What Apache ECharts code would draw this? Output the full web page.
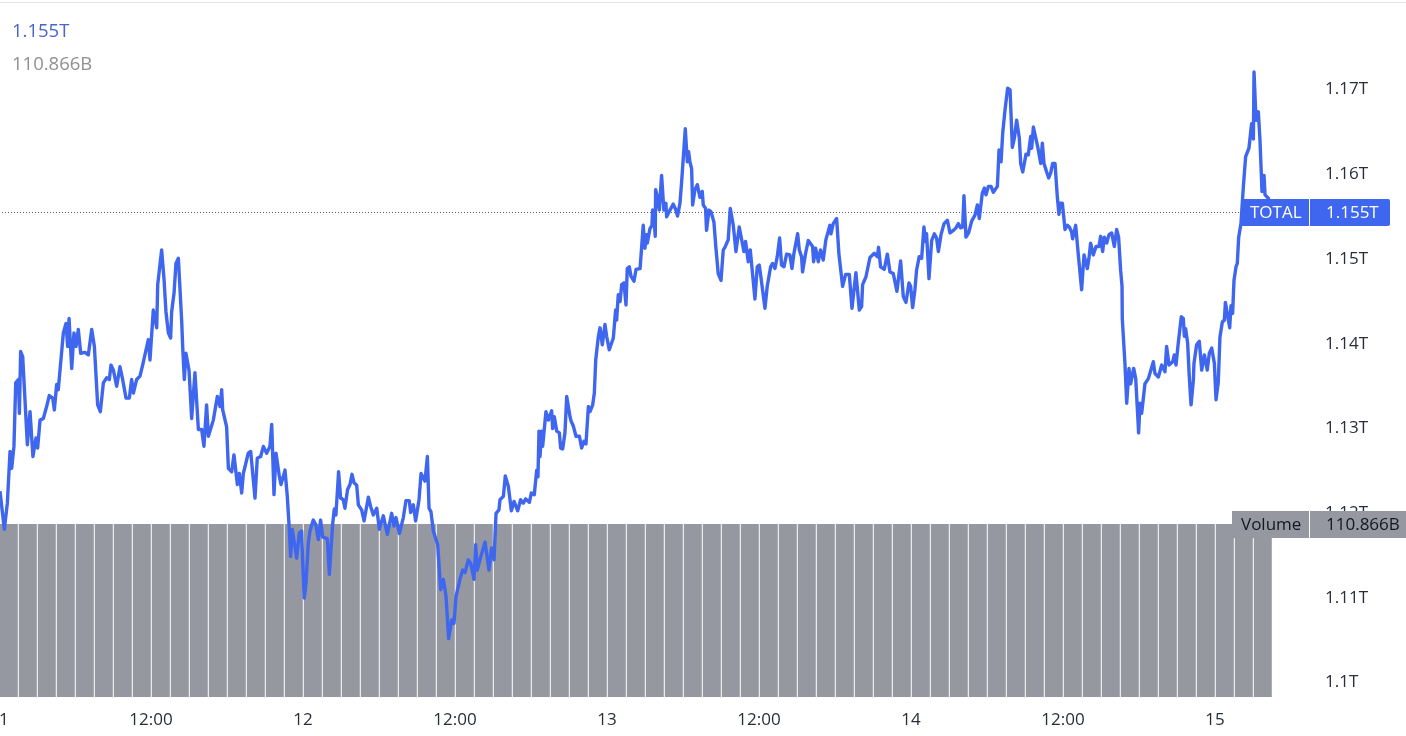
<!DOCTYPE html>
<html>
<head>
<meta charset="utf-8">
<style>html,body{margin:0;padding:0;background:#fff}#c{width:1406px;height:736px}</style>
<script src="https://cdn.jsdelivr.net/npm/echarts@6/dist/echarts.min.js"></script>
</head>
<body>
<div id="c"></div>
<script>
// [hours since the 11th 00:00, total in billions]
const totalDay11 = [[0.08,1122.4],[0.18,1122.4],[0.42,1117.9],[0.66,1121.0],[0.87,1127.1],[1.0,1125.1],[1.18,1127.7],[1.32,1135.2],[1.53,1135.6],[1.61,1131.6],[1.71,1138.9],[1.87,1138.3],[2.24,1127.9],[2.45,1131.8],[2.68,1126.5],[2.92,1128.7],[3.05,1127.5],[3.24,1130.8],[3.5,1131.0],[3.76,1132.4],[3.97,1133.7],[4.24,1133.4],[4.37,1132.0],[4.55,1135.0],[4.68,1134.4],[5.08,1141.1],[5.29,1142.2],[5.42,1139.5],[5.53,1142.8],[5.74,1136.9],[5.92,1141.1],[6.08,1139.5],[6.26,1141.5],[6.45,1138.7],[6.79,1138.8],[7.05,1138.5],[7.32,1141.5],[7.53,1139.5],[7.79,1132.6],[8.0,1131.8],[8.24,1135.2],[8.5,1135.8],[8.71,1135.6],[8.84,1137.3],[9.03,1136.7],[9.29,1134.8],[9.55,1137.1],[9.76,1135.6],[10.03,1133.4],[10.29,1133.4],[10.47,1135.6],[10.61,1134.0],[10.87,1135.6],[11.13,1136.0],[11.34,1137.3],[11.79,1140.3],[11.92,1137.9],[12.18,1143.8],[12.45,1141.7],[12.53,1146.8],[12.84,1150.9],[13.03,1147.4],[13.18,1143.6],[13.37,1141.1],[13.55,1140.5],[13.63,1143.6],[13.82,1145.8],[13.97,1149.3],[14.16,1149.9],[14.42,1142.6],[14.5,1139.5],[14.63,1135.6],[14.76,1138.7],[15.0,1136.7],[15.21,1131.0],[15.47,1136.4],[15.74,1129.7],[16.0,1129.7],[16.18,1127.7],[16.39,1132.6],[16.53,1128.9],[16.92,1130.8],[17.24,1133.6],[17.45,1132.4],[17.58,1134.4],[17.66,1132.0],[17.97,1130.0],[18.11,1125.1],[18.37,1124.7],[18.55,1126.7],[18.82,1123.2],[18.97,1124.5],[19.16,1122.2],[19.29,1124.5],[19.68,1126.9],[19.87,1127.1],[20.21,1121.6],[20.39,1126.3],[20.66,1126.5],[20.87,1127.7],[21.13,1126.9],[21.39,1127.7],[21.53,1130.3],[21.71,1122.0],[21.87,1126.9],[22.13,1124.2],[22.26,1123.2],[22.58,1124.9],[22.76,1121.8],[22.92,1117.9],[23.02,1114.7],[23.15,1117.9],[23.36,1115.9],[23.5,1114.5],[23.71,1117.5],[23.89,1117.7],[23.97,1114.3]];
const totalDay12 = [[24.1,1109.8],[24.24,1111.6],[24.42,1116.3],[24.55,1117.7],[24.81,1119.0],[25.0,1118.5],[25.21,1116.7],[25.39,1119.0],[25.55,1117.0],[25.74,1116.9],[25.92,1116.8],[26.08,1112.6],[26.21,1112.6],[26.34,1118.5],[26.47,1120.3],[26.6,1119.6],[26.81,1124.7],[26.97,1121.6],[27.18,1121.4],[27.31,1120.4],[27.52,1122.6],[27.71,1123.2],[27.87,1124.4],[28.03,1123.4],[28.24,1123.1],[28.37,1120.8],[28.63,1120.2],[28.82,1118.9],[29.16,1121.7],[29.34,1120.6],[29.55,1119.6],[29.82,1120.4],[30.03,1117.9],[30.34,1119.5],[30.66,1117.3],[31.0,1119.8],[31.18,1118.3],[31.34,1119.3],[31.61,1117.4],[31.92,1119.3],[32.13,1121.3],[32.39,1121.3],[32.5,1119.9],[32.71,1120.8],[32.89,1118.9],[33.16,1121.4],[33.32,1124.5],[33.63,1123.6],[33.82,1126.5],[33.95,1120.4],[34.1,1120.0],[34.29,1117.7],[34.63,1116.1],[34.87,1110.8],[35.08,1112.0],[35.29,1110.0],[35.5,1105.0],[35.74,1107.2],[35.92,1106.8],[36.08,1110.0],[36.39,1112.0],[36.61,1113.1],[36.79,1112.8],[37.05,1114.3],[37.24,1113.9],[37.5,1112.0],[37.63,1116.1],[37.76,1113.1],[37.97,1114.3],[38.37,1116.4],[38.68,1113.1],[38.89,1115.7],[39.08,1114.3],[39.24,1119.8],[39.47,1120.2],[39.55,1121.4],[39.82,1121.8],[39.97,1124.2],[40.21,1123.0],[40.45,1120.1],[40.66,1121.2],[40.95,1120.1],[41.18,1121.4],[41.39,1121.0],[41.58,1121.5],[41.87,1121.1],[42.03,1122.2],[42.26,1122.0],[42.45,1124.9],[42.55,1124.1],[42.63,1129.5],[42.71,1126.5],[42.84,1129.5],[42.92,1127.7],[43.18,1131.8],[43.37,1130.8],[43.63,1131.9],[43.71,1129.8],[43.84,1131.2],[44.03,1129.5],[44.24,1129.3],[44.34,1127.5],[44.5,1127.4],[44.68,1129.3],[44.82,1133.6],[45.08,1131.2],[45.16,1130.7],[45.34,1130.1],[45.55,1128.9],[45.82,1128.9],[46.0,1127.5],[46.18,1128.3],[46.34,1128.0],[46.53,1132.4],[46.66,1131.8],[46.87,1132.6],[47.0,1134.0],[47.11,1137.9],[47.32,1140.7],[47.45,1141.7],[47.63,1139.7],[47.84,1142.1],[47.97,1140.7]];
const totalDay13 = [[48.18,1139.1],[48.5,1140.5],[48.68,1143.8],[48.76,1142.6],[48.89,1145.6],[49.03,1144.8],[49.16,1146.8],[49.34,1147.0],[49.5,1144.4],[49.6,1148.7],[49.76,1148.9],[49.89,1147.8],[50.13,1147.2],[50.29,1148.6],[50.61,1148.7],[50.86,1153.8],[50.99,1151.1],[51.13,1152.7],[51.18,1151.7],[51.39,1153.4],[51.55,1153.8],[51.6,1155.6],[51.71,1154.6],[51.81,1152.5],[51.84,1158.0],[51.97,1157.2],[52.13,1155.6],[52.31,1159.7],[52.49,1155.6],[52.65,1156.4],[52.71,1154.8],[52.97,1155.6],[53.23,1156.3],[53.44,1155.6],[53.57,1154.9],[53.76,1156.4],[53.89,1158.9],[54.18,1165.2],[54.34,1161.3],[54.44,1162.5],[54.55,1161.3],[54.68,1160.5],[54.76,1156.2],[54.94,1158.0],[55.13,1158.6],[55.34,1157.1],[55.52,1157.8],[55.6,1156.2],[55.78,1155.8],[55.86,1153.2],[56.05,1155.6],[56.21,1155.4],[56.44,1154.2],[56.6,1151.1],[56.78,1148.1],[57.0,1147.3],[57.18,1150.9],[57.31,1151.2],[57.57,1152.1],[57.73,1155.8],[57.97,1153.8],[58.18,1150.7],[58.44,1153.6],[58.57,1153.4],[58.81,1150.7],[58.94,1151.9],[59.15,1149.5],[59.31,1150.9],[59.68,1145.1],[59.86,1148.9],[60.02,1149.1],[60.15,1147.7],[60.28,1147.5],[60.47,1144.0],[60.65,1146.6],[60.92,1148.9],[61.07,1149.3],[61.26,1148.7],[61.44,1150.1],[61.63,1152.3],[61.78,1149.1],[61.97,1148.9],[62.18,1150.4],[62.44,1150.3],[62.6,1148.7],[62.76,1150.5],[63.05,1152.8],[63.18,1150.9],[63.36,1150.1],[63.44,1148.3],[63.68,1150.5],[63.89,1152.0],[64.23,1151.3],[64.31,1149.5],[64.47,1151.1],[64.68,1149.5],[64.86,1150.9],[65.07,1149.7],[65.28,1152.1],[65.6,1153.8],[65.68,1152.8],[65.86,1154.0],[66.13,1154.6],[66.31,1150.4],[66.6,1146.6],[66.84,1148.0],[67.13,1148.0],[67.34,1144.0],[67.65,1148.2],[67.92,1143.8],[68.1,1144.2],[68.18,1146.8],[68.44,1147.7],[68.76,1150.0],[68.89,1149.9],[69.1,1150.5],[69.34,1150.1],[69.44,1151.2],[69.6,1148.9],[69.89,1148.6],[70.13,1150.4],[70.34,1148.3],[70.6,1148.1],[70.89,1146.0],[71.18,1149.6],[71.39,1145.4],[71.6,1144.7],[71.84,1147.0],[71.97,1146.6]];
const totalDay14 = [[72.13,1144.1],[72.31,1146.2],[72.44,1148.5],[72.65,1150.1],[72.84,1149.9],[73.02,1153.6],[73.15,1151.9],[73.23,1152.8],[73.42,1147.5],[73.63,1152.0],[73.84,1152.8],[74.02,1152.3],[74.16,1150.7],[74.37,1152.7],[74.61,1154.0],[74.87,1154.4],[75.08,1152.9],[75.34,1153.2],[75.55,1153.5],[75.74,1154.0],[75.92,1153.5],[76.08,1153.6],[76.18,1157.3],[76.34,1152.4],[76.55,1152.9],[76.79,1154.3],[77.05,1155.0],[77.24,1156.2],[77.39,1154.6],[77.63,1157.6],[77.79,1158.2],[77.92,1157.4],[78.11,1158.4],[78.32,1158.4],[78.5,1157.7],[78.82,1158.4],[78.95,1162.7],[79.11,1161.3],[79.24,1164.7],[79.37,1164.5],[79.42,1167.4],[79.63,1170.0],[79.82,1169.8],[80.0,1163.0],[80.16,1164.1],[80.34,1166.2],[80.55,1164.1],[80.66,1161.1],[80.82,1160.1],[81.08,1162.2],[81.26,1162.1],[81.45,1164.3],[81.53,1162.9],[81.66,1165.4],[81.79,1164.5],[81.92,1164.7],[82.0,1163.1],[82.24,1161.1],[82.37,1163.5],[82.5,1161.1],[82.71,1160.1],[82.87,1159.4],[83.03,1160.0],[83.18,1161.1],[83.37,1161.1],[83.55,1157.2],[83.68,1155.1],[83.76,1156.4],[83.95,1156.4],[84.16,1153.3],[84.34,1153.8],[84.5,1153.6],[84.68,1153.0],[84.76,1152.2],[85.0,1153.8],[85.21,1150.3],[85.34,1150.3],[85.47,1146.2],[85.66,1150.3],[85.92,1148.7],[86.05,1149.9],[86.18,1151.7],[86.39,1150.3],[86.61,1151.3],[86.84,1151.3],[86.97,1152.5],[87.13,1150.7],[87.26,1152.4],[87.45,1151.7],[87.63,1152.7],[87.84,1152.9],[88.05,1151.3],[88.24,1153.3],[88.39,1152.4],[88.55,1148.5],[88.66,1146.6],[88.68,1142.8],[88.79,1142.6],[88.89,1137.5],[89.03,1132.8],[89.21,1136.9],[89.34,1135.1],[89.58,1136.9],[89.74,1135.7],[89.89,1131.6],[89.97,1129.3],[90.08,1132.8],[90.21,1131.6],[90.47,1135.1],[90.74,1135.7],[91.13,1137.7],[91.26,1136.3],[91.53,1135.9],[91.79,1137.3],[92.05,1136.5],[92.18,1139.5],[92.37,1137.3],[92.66,1137.7],[92.79,1138.5],[92.92,1137.3],[93.1,1139.9],[93.34,1143.0],[93.5,1142.8],[93.58,1140.7],[93.68,1141.6],[93.84,1139.9],[93.97,1135.9],[94.11,1132.6],[94.29,1135.5],[94.34,1137.5],[94.55,1139.7],[94.76,1140.1],[94.95,1136.7],[95.16,1138.5],[95.39,1136.7],[95.55,1138.7],[95.74,1139.3],[95.95,1137.5]];
const totalDay15 = [[96.08,1133.2],[96.26,1135.3],[96.39,1140.6],[96.58,1142.4],[96.74,1142.6],[96.82,1144.7],[96.97,1143.4],[97.16,1141.7],[97.26,1144.3],[97.39,1143.4],[97.5,1147.3],[97.66,1148.9],[97.76,1149.3],[97.87,1152.4],[98.05,1154.0],[98.24,1158.4],[98.42,1161.9],[98.68,1162.9],[98.89,1165.8],[99.03,1164.0],[99.08,1171.9],[99.24,1166.2],[99.42,1167.2],[99.55,1163.9],[99.71,1157.8],[99.87,1159.7],[99.95,1157.4],[100.21,1157.0],[100.41,1155.4]];

// one bar per 1.5 hours; every bar reaches the same height in the picture
const volumes = [110.866,110.866,110.866,110.866,110.866,110.866,110.866,110.866,110.866,110.866,110.866,110.866,110.866,110.866,110.866,110.866,110.866,110.866,110.866,110.866,110.866,110.866,110.866,110.866,110.866,110.866,110.866,110.866,110.866,110.866,110.866,110.866,110.866,110.866,110.866,110.866,110.866,110.866,110.866,110.866,110.866,110.866,110.866,110.866,110.866,110.866,110.866,110.866,110.866,110.866,110.866,110.866,110.866,110.866,110.866,110.866,110.866,110.866,110.866,110.866,110.866,110.866,110.866,110.866,110.866,110.866,110.866];
const dayLabels = {0:'11',24:'12',48:'13',72:'14',96:'15'};
const lastTotal = 1155.4;
const lastTotalText = '1.155T';
const lastVolumeText = '110.866B';
const symbolName = 'TOTAL';
const volumeName = 'Volume';

const BLUE = '#3f66ee', GREY = '#9598a1', FONT = '"Open Sans", "Noto Sans", sans-serif';
const HOUR_MAX = 103.5;
const total = [].concat(totalDay11, totalDay12, totalDay13, totalDay14, totalDay15);
const barIndex = volumes.map((v, i) => i);

const chart = echarts.init(document.getElementById('c'), null, {renderer: 'canvas'});
const tag = (x, y, w, h, fill, r) => ({type: 'rect', z: 100, shape: {x, y, width: w, height: h, r: r || 0}, style: {fill}, silent: true});
const txt = (x, y, text, fill, size) => ({type: 'text', z: 101, x, y, silent: true,
  style: {text, fill, font: (size || 17) + 'px ' + FONT, verticalAlign: 'middle'}});
chart.setOption({
  animation: false,
  backgroundColor: '#ffffff',
  grid: [
    {left: -1, width: 1311, top: 3.4, height: 677.6, outerBoundsMode: 'none'},
    {left: -0.7, width: 1273, top: 524, height: 173, outerBoundsMode: 'none'},
    {left: -1, width: 1311, top: 4.9, height: 677.6, outerBoundsMode: 'none'}
  ],
  xAxis: [
    {type: 'value', gridIndex: 0, min: 0, max: HOUR_MAX, interval: 12, offset: 16,
     axisLine: {show: false}, axisTick: {show: false}, splitLine: {show: false},
     axisLabel: {show: true, margin: 15, color: '#2a2e39', fontSize: 17, fontFamily: FONT, hideOverlap: false,
       showMinLabel: true, showMaxLabel: false,
       formatter: v => (v % 24 === 0 ? dayLabels[v] : (v % 24 === 12 ? '12:00' : ''))}},
    {type: 'category', gridIndex: 1, data: barIndex, show: false, boundaryGap: true},
    {type: 'value', gridIndex: 2, min: 0, max: HOUR_MAX, show: false}
  ],
  yAxis: [
    {type: 'value', gridIndex: 0, min: 1100, max: 1180, interval: 10, show: false, splitLine: {show: false}},
    {type: 'value', gridIndex: 1, min: 0, max: 110.866, show: false, splitLine: {show: false}},
    {type: 'value', gridIndex: 2, position: 'right', min: 1100, max: 1180, interval: 10,
     axisLine: {show: false}, axisTick: {show: false}, splitLine: {show: false},
     axisLabel: {margin: 15, color: '#2a2e39', fontSize: 17, fontFamily: FONT,
       formatter: v => (v >= 1180 ? '' : (v / 1000) + 'T')}}
  ],
  series: [
    {type: 'bar', xAxisIndex: 1, yAxisIndex: 1, data: volumes, barWidth: 18, silent: true, z: 2,
     itemStyle: {color: GREY}},
    {type: 'line', xAxisIndex: 0, yAxisIndex: 0, data: total, showSymbol: false, silent: true, z: 5,
     lineStyle: {color: BLUE, width: 3.4, join: 'round'},
     markLine: {silent: true, symbol: 'none', label: {show: false}, animation: false,
       lineStyle: {color: '#5d606b', width: 1, type: [1, 2]}, data: [{yAxis: lastTotal}]}}
  ],
  graphic: [
    {type: 'rect', z: 99, silent: true, shape: {x: 0, y: 2, width: 1406, height: 1}, style: {fill: '#e0e3eb'}},
    txt(12, 32, lastTotalText, '#4a64cf', 18.5),
    txt(12, 65, lastVolumeText, '#919191', 18.5),
    tag(1241, 199, 149, 27, BLUE, 2),
    {type: 'rect', z: 101, silent: true, shape: {x: 1309, y: 199, width: 1, height: 27}, style: {fill: '#ffffff'}},
    txt(1250, 213.5, symbolName, '#ffffff'),
    txt(1326, 213.5, lastTotalText, '#ffffff'),
    tag(1232, 511, 174, 27, GREY),
    {type: 'rect', z: 101, silent: true, shape: {x: 1309, y: 511, width: 1, height: 27}, style: {fill: '#ffffff'}},
    txt(1241, 525.5, volumeName, '#131722'),
    txt(1326, 525.5, lastVolumeText, '#131722')
  ]
});
</script>
</body>
</html>
